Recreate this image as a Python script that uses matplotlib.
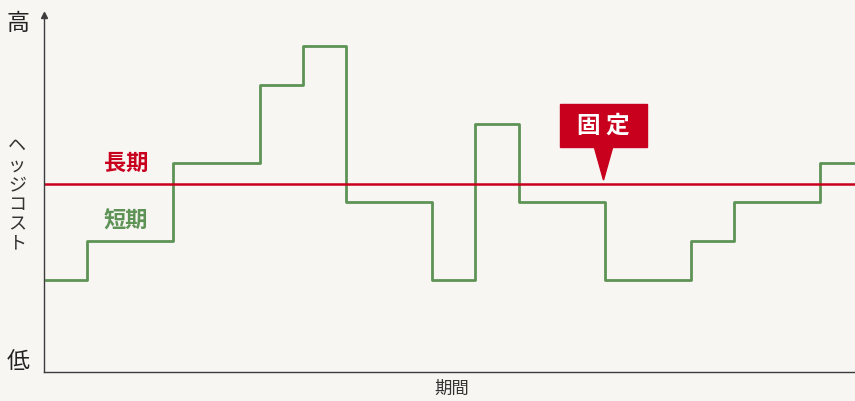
import matplotlib.pyplot as plt
from matplotlib.patches import Rectangle, Polygon

plt.rcParams['font.family'] = ['Noto Sans CJK JP', 'DejaVu Sans']

# short-term hedge cost: step edges (period index) and level after each edge
short_edges = [0, 1, 3, 5, 6, 7, 9, 10, 11, 13, 15, 16, 18, 18.8]
short_levels = [1, 2, 4, 6, 7, 3, 1, 5, 3, 1, 2, 3, 4, 4]
long_level = 3.46
fixed_at = 12.97

GREEN = "#5e9356"
RED = "#c8001e"
AXIS = "#3c3c3c"

fig = plt.figure(figsize=(8.55, 4.01), dpi=100)
fig.patch.set_facecolor("#f8f6f3")
ax = fig.add_axes([44 / 855, 29 / 401, 811 / 855, 357 / 401])
ax.set_facecolor("#f8f6f3")
ax.set_xlim(0, 18.8)
ax.set_ylim(-1.36, 7.79)

for side in ["top", "right"]:
    ax.spines[side].set_visible(False)
for side in ["left", "bottom"]:
    ax.spines[side].set_color(AXIS)
    ax.spines[side].set_linewidth(1.0)
ax.set_xticks([])
ax.set_yticks([])

# arrow head on y axis
ax.plot(0, 1, marker="^", color=AXIS, markersize=5, transform=ax.transAxes,
        clip_on=False)

# lines
ax.step([e + 0.05 if i == 0 else e for i, e in enumerate(short_edges)],
        short_levels, where="post", color=GREEN, linewidth=2.0)
ax.axhline(long_level, color=RED, linewidth=1.8)

# series labels
ax.text(1.9, 3.98, "長期", color=RED, fontsize=16, fontweight="bold",
        ha="center", va="center")
ax.text(1.9, 2.5, "短期", color=GREEN, fontsize=16, fontweight="bold",
        ha="center", va="center")

# callout "固定"
box_w, box_bottom, box_top = 2.0, 4.41, 5.51
ax.add_patch(Rectangle((fixed_at - box_w / 2, box_bottom), box_w,
                       box_top - box_bottom, color=RED, zorder=4))
ax.add_patch(Polygon([(fixed_at - 0.22, box_bottom + 0.02),
                      (fixed_at + 0.22, box_bottom + 0.02),
                      (fixed_at, long_level + 0.1)], color=RED, zorder=4))
ax.text(fixed_at, (box_bottom + box_top) / 2, "固 定", color="white",
        fontsize=17, fontweight="bold", ha="center", va="center", zorder=5)

# axis texts
fig.text(18 / 855, 1 - 24 / 401, "高", fontsize=16.5, ha="center", va="center",
         color="#222222")
fig.text(18 / 855, 1 - 361 / 401, "低", fontsize=16.5, ha="center", va="center",
         color="#222222")
fig.text(17 / 855, 1 - 195 / 401, "\n".join("ヘッジコスト"), fontsize=13,
         ha="center", va="center", color="#333333", linespacing=1.1)
fig.text(452 / 855, 1 - 389 / 401, "期間", fontsize=12.5, ha="center",
         va="center", color="#333333")

fig.savefig("out.png", dpi=100, facecolor=fig.get_facecolor())
